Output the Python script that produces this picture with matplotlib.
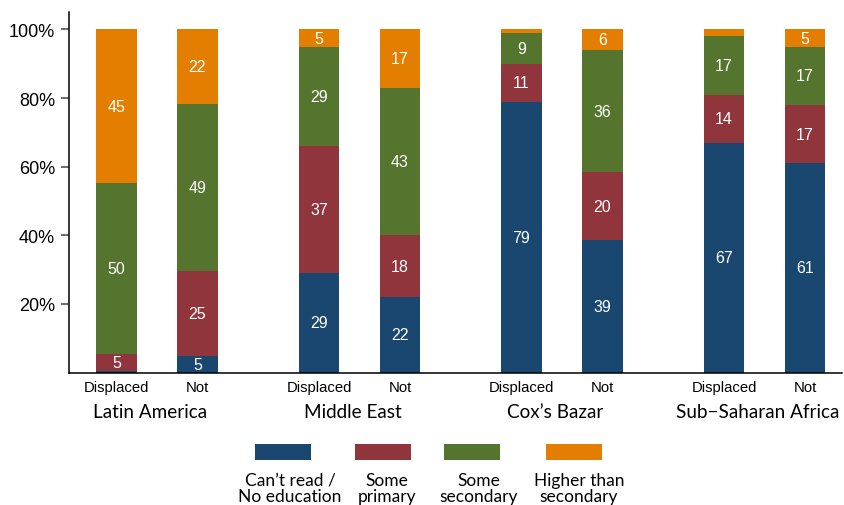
import numpy as np
import matplotlib.pyplot as plt
from matplotlib.patches import Rectangle
from matplotlib.transforms import blended_transform_factory

# Regions and the two bars in each
regions = ["Latin America", "Middle East", "Cox\u2019s Bazar", "Sub\u2212Saharan Africa"]
bar_names = ["Displaced", "Not"]

# Education shares (%) per bar, order: LA D, LA N, ME D, ME N, CB D, CB N, SSA D, SSA N
no_education = [0.5, 5, 29, 22, 79, 39, 67, 61]
some_primary = [5, 25, 37, 18, 11, 20, 14, 17]
some_secondary = [50, 49, 29, 43, 9, 36, 17, 17]
higher = [45, 22, 5, 17, 1, 6, 2, 5]

categories = ["Can\u2019t read /\nNo education", "Some\nprimary", "Some\nsecondary", "Higher than\nsecondary"]
colors = ["#1a476f", "#90353b", "#55752f", "#e37e00"]

series = np.array([no_education, some_primary, some_secondary, higher], dtype=float)
shares = series / series.sum(axis=0) * 100  # each bar fills to 100%

# bar positions: groups 2.5 apart, bars +-0.5 inside a group
group_x = np.arange(len(regions)) * 2.5
x = np.ravel([[g - 0.5, g + 0.5] for g in group_x])

fig = plt.figure(figsize=(8.44, 5.06), dpi=100)
ax = fig.add_axes([69 / 844, 1 - 373.6 / 506, (842 - 69) / 844, (373.6 - 13) / 506])

bottom = np.zeros(len(x))
for vals, shown, col in zip(shares, series, colors):
    ax.bar(x, vals, width=0.5, bottom=bottom, color=col, linewidth=0)
    for xi, b, v, s in zip(x, bottom, vals, shown):
        if s >= 5:
            ax.text(xi, b + v / 2, f"{s:.0f}", ha="center", va="center",
                    color="white", fontsize=11.5, family="Liberation Sans")
    bottom += vals

ax.set_xlim(-1.086, 8.457)
ax.set_ylim(0, 105.1)
ax.set_yticks([20, 40, 60, 80, 100])
ax.set_yticklabels([f"{t}%" for t in [20, 40, 60, 80, 100]],
                   fontsize=13, family="Liberation Sans")
ax.set_xticks(x)
ax.set_xticklabels(bar_names * len(regions), fontsize=10.7, family="Liberation Sans")
ax.tick_params(axis="x", length=0, pad=5)
ax.tick_params(axis="y", length=6, width=1.1, color="#444444", pad=4)
for side in ["top", "right"]:
    ax.spines[side].set_visible(False)
for side in ["left", "bottom"]:
    ax.spines[side].set_linewidth(1.1)
    ax.spines[side].set_color("black")

# region names sit a little left of the group centre, as in the original
trans = blended_transform_factory(ax.transData, ax.transAxes)
for g, name in zip(group_x, regions):
    ax.text(g - 0.08, -0.1085, name, transform=trans, ha="center", va="center",
            fontsize=13.6, family="Lato")

# legend: colour key above two-line labels
key_left = [255, 355, 444, 546]
text_center = [290, 387, 479, 579]
for left, tc, col, lab in zip(key_left, text_center, colors, categories):
    fig.add_artist(Rectangle((left / 844, 1 - 461 / 506), 56 / 844, 16 / 506,
                             transform=fig.transFigure, color=col, linewidth=0))
    fig.text(tc / 844, 1 - 489 / 506, lab, ha="center", va="center",
             fontsize=12.5, family="Lato", linespacing=1.05)

fig.savefig("out.png", dpi=100)
